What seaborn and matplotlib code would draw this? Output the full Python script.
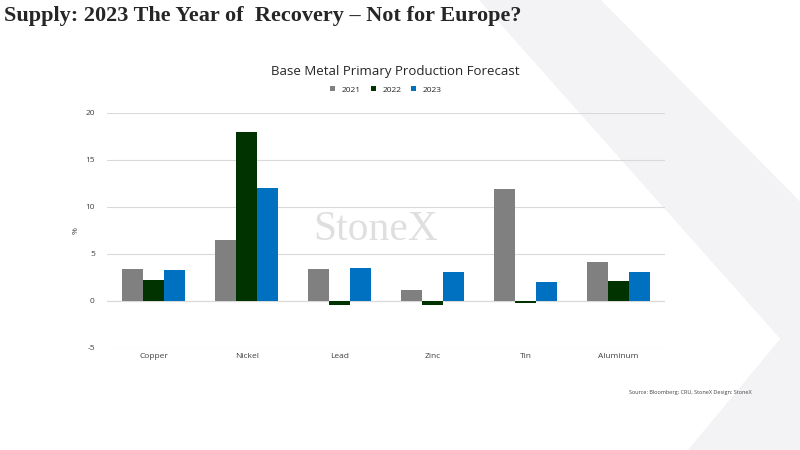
import matplotlib
matplotlib.use("Agg")
import matplotlib.pyplot as plt
import seaborn as sns
import pandas as pd

metals = ["Copper", "Nickel", "Lead", "Zinc", "Tin", "Aluminum"]
v2021 = [3.4, 6.5, 3.4, 1.2, 11.9, 4.1]
v2022 = [2.2, 18.0, -0.4, -0.4, -0.2, 2.1]
v2023 = [3.3, 12.0, 3.5, 3.1, 2.0, 3.1]
years = ["2021", "2022", "2023"]

rows = []
for i, m in enumerate(metals):
    for y, vals in zip(years, [v2021, v2022, v2023]):
        rows.append({"Metal": m, "Year": y, "Value": vals[i]})
data = pd.DataFrame(rows)

sns.set_style("white")
plt.rcParams["font.family"] = ["Open Sans", "DejaVu Sans"]
plt.rcParams["axes.unicode_minus"] = False

fig = plt.figure(figsize=(8, 4.5), dpi=100)
# background decoration
bg = fig.add_axes([0, 0, 1, 1], zorder=-1)
bg.set_xlim(0, 1)
bg.set_ylim(0, 1)
bg.axis("off")
bg.add_patch(plt.Polygon([[0.6, 1], [0.75, 1], [1, 0.55], [1, 0.2]], closed=True, color="#f3f3f5"))
bg.add_patch(plt.Polygon([[0.86, 0.0], [1, 0.0], [1, 0.3]], closed=True, color="#f3f3f5"))

ax = fig.add_axes([0.134, 0.227, 0.697, 0.522])
ax.patch.set_alpha(0)
sns.barplot(data=data, x="Metal", y="Value", hue="Year", ax=ax,
            palette=["#808080", "#003300", "#0070C0"], width=0.68, saturation=1,
            edgecolor="none", linewidth=0)
ax.set_ylim(-5, 20)
ax.set_yticks([-5, 0, 5, 10, 15, 20])
ax.grid(axis="y", color="#d9d9d9", linewidth=0.8)
ax.set_axisbelow(True)
ax.axhline(0, color="#d9d9d9", linewidth=0.8, zorder=0)
for s in ax.spines.values():
    s.set_visible(False)
ax.tick_params(axis="both", labelsize=6, colors="#404040", length=0)
ax.tick_params(axis="y", pad=9)
ax.set_xlabel("")
ax.set_ylabel("%", fontsize=6, color="#404040")
ax.legend(loc="lower center", bbox_to_anchor=(0.5, 1.05), ncol=3, frameon=False,
          fontsize=6, handlelength=0.6, handleheight=0.6, columnspacing=1.2)

fig.text(0.47, 0.49, "StoneX", fontsize=30, color="#d8d8d8", ha="center", va="center",
         family=["Liberation Serif"], alpha=0.8)
fig.text(0.494, 0.84, "Base Metal Primary Production Forecast", fontsize=9.5,
         ha="center", va="center", color="#262626")
fig.text(0.005, 0.965, "Supply: 2023 The Year of  Recovery – Not for Europe?", fontsize=16,
         ha="left", va="center", family=["Liberation Serif"], weight="bold")
fig.text(0.94, 0.127, "Source: Bloomberg; CRU, StoneX Design: StoneX", fontsize=4,
         ha="right", va="center", color="#404040")
fig.savefig("out.png", dpi=100)
